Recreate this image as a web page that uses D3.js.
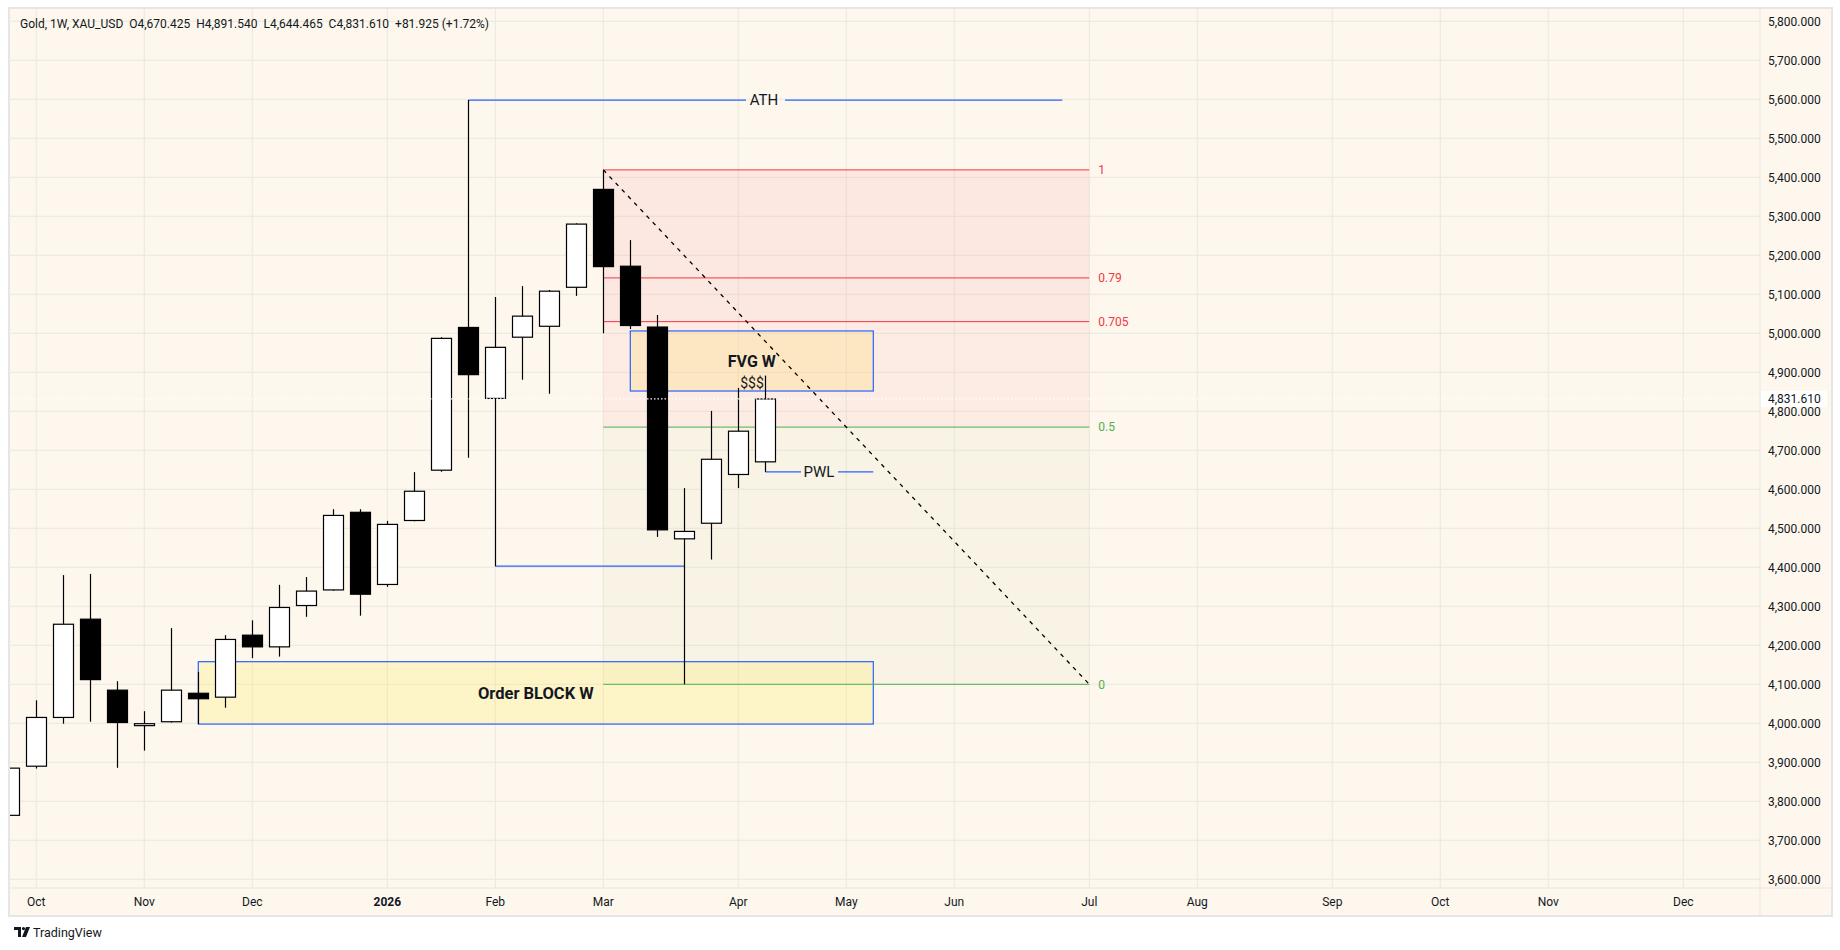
<!DOCTYPE html>
<html>
<head>
<meta charset="utf-8">
<script src="https://cdn.jsdelivr.net/npm/d3@7"></script>
<style>
  body { margin: 0; background: #ffffff; }
  svg { display: block; font-family: Roboto, "Noto Sans", sans-serif; }
</style>
</head>
<body>
<svg id="chart" width="1840" height="950"></svg>
<script>
// weekly candles, Gold XAU_USD 1W
var weeks = ["2025-09-29","2025-10-06","2025-10-13","2025-10-20","2025-10-27","2025-11-03","2025-11-10",
  "2025-11-17","2025-11-24","2025-12-01","2025-12-08","2025-12-15","2025-12-22","2025-12-29","2026-01-05",
  "2026-01-12","2026-01-19","2026-01-26","2026-02-02","2026-02-09","2026-02-16","2026-02-23","2026-03-02",
  "2026-03-09","2026-03-16","2026-03-23","2026-03-30","2026-04-06","2026-04-13"];
var open  = [3764,3890,4015,4267,4085,3994,4004,4077,4067,4226,4196,4302,4342,4541,4356,4520,4649,5015,4833,4990,5018,5118,5369,5172,5016,4473,4513,4638,4670.425];
var high  = [3886,4059,4380,4383,4108,4031,4244,4132,4226,4264,4355,4375,4549,4549,4519,4644,4990,5598,5093,5121,5111,5282,5419,5239,5047,4603,4801,4860,4891.54];
var low   = [3762,3884,3999,4004,3886,3930,4002,3998,4040,4167,4171,4273,4340,4276,4350,4518,4645,4681,4403,4881,4845,5096,5000,5011,4478,4100,4420,4603,4644.465];
var close = [3885,4015,4254,4112,4002,3999,4085,4063,4215,4196,4297,4339,4533,4331,4510,4595,4987,4894,4964,5044,5108,5280,5171,5020,4496,4492,4677,4749,4831.61];

var priceTicks = d3.range(3600, 5801, 100);
var monthNames = ["Oct","Nov","Dec","2026","Feb","Mar","Apr","May","Jun","Jul","Aug","Sep","Oct","Nov","Dec"];

var fibLevels = [1, 0.79, 0.705, 0.5, 0];
var fibHigh = 5419, fibLow = 4100;
var athLevel = 5598;
var fvg = [4852, 5006];
var orderBlock = [3998, 4158];
var swingLow = 4403;
var pwl = 4644.465;
var lastPrice = 4831.61;

var header = "Gold, 1W, XAU_USD  O4,670.425  H4,891.540  L4,644.465  C4,831.610  +81.925 (+1.72%)";

var svg = d3.select("#chart"),
    width = +svg.attr("width"),
    height = +svg.attr("height");

var parse = d3.utcParse("%Y-%m-%d");
var candles = weeks.map(function(w, i) {
  return {date: parse(w), o: open[i], h: high[i], l: low[i], c: close[i]};
});
function wk(s) { return parse(s); }

var plot = {left: 10, right: 1760, top: 9, bottom: 888};

// one week = 27px, Oct 6 2025 sits at 36.3
var x = d3.scaleUtc()
  .domain([wk("2025-10-06"), wk("2026-12-07")])
  .range([36.3, 36.3 + 27 * 61]);
var y = d3.scaleLinear()
  .domain([3600, 5800])
  .range([879.3, 21.3]);

var ink = "#131722", grid = "#ece8de", blue = "#2962ff", red = "#f23645", green = "#4caf50";

// pane backgrounds
svg.append("rect").attr("x", 9).attr("y", 8).attr("width", 1823).attr("height", 908)
  .attr("fill", "#fdf7ee").attr("stroke", "#e6e6e6").attr("stroke-width", 2);
svg.append("line").attr("x1", plot.right).attr("x2", plot.right).attr("y1", 8).attr("y2", 916)
  .attr("stroke", "#e9e6df");
svg.append("line").attr("x1", 9).attr("x2", 1832).attr("y1", plot.bottom).attr("y2", plot.bottom)
  .attr("stroke", "#e9e6df");

svg.append("clipPath").attr("id", "clip").append("rect")
  .attr("x", plot.left).attr("y", plot.top)
  .attr("width", plot.right - plot.left).attr("height", plot.bottom - plot.top);

var g = svg.append("g").attr("clip-path", "url(#clip)");

// month ticks: first weekly bar of each month
var monthTicks = d3.utcMonth.range(wk("2025-10-01"), wk("2026-12-31")).map(function(m) {
  return d3.utcMonday.ceil(m);
});

g.append("g").selectAll("line").data(monthTicks).enter().append("line")
  .attr("x1", function(d) { return x(d); }).attr("x2", function(d) { return x(d); })
  .attr("y1", plot.top).attr("y2", plot.bottom)
  .attr("stroke", grid);
g.append("g").selectAll("line").data(priceTicks).enter().append("line")
  .attr("x1", plot.left).attr("x2", plot.right)
  .attr("y1", function(d) { return y(d); }).attr("y2", function(d) { return y(d); })
  .attr("stroke", grid);

// fib retracement zones
var fibX0 = x(wk("2026-03-02")), fibX1 = x(wk("2026-06-29")) + 27;
function fibPrice(l) { return fibLow + (fibHigh - fibLow) * l; }
var zones = [[1, 0.705, "rgba(242,54,69,0.075)"], [0.705, 0.5, "rgba(242,54,69,0.055)"], [0.5, 0, "rgba(150,170,70,0.05)"]];
g.append("g").selectAll("rect").data(zones).enter().append("rect")
  .attr("x", fibX0).attr("width", fibX1 - fibX0)
  .attr("y", function(d) { return y(fibPrice(d[0])); })
  .attr("height", function(d) { return y(fibPrice(d[1])) - y(fibPrice(d[0])); })
  .attr("fill", function(d) { return d[2]; });

// order block + fvg boxes
var boxX0 = x(wk("2025-11-17")), boxX1 = x(wk("2026-05-11"));
g.append("rect").attr("x", boxX0).attr("width", boxX1 - boxX0)
  .attr("y", y(orderBlock[1])).attr("height", y(orderBlock[0]) - y(orderBlock[1]))
  .attr("fill", "rgba(255,235,80,0.24)").attr("stroke", blue).attr("stroke-width", 1.2);
var fvgX0 = x(wk("2026-03-09"));
g.append("rect").attr("x", fvgX0).attr("width", boxX1 - fvgX0)
  .attr("y", y(fvg[1])).attr("height", y(fvg[0]) - y(fvg[1]))
  .attr("fill", "rgba(255,220,120,0.3)").attr("stroke", blue).attr("stroke-width", 1.2);

// fib lines
g.append("g").selectAll("line").data(fibLevels).enter().append("line")
  .attr("x1", fibX0).attr("x2", fibX1)
  .attr("y1", function(d) { return y(fibPrice(d)); }).attr("y2", function(d) { return y(fibPrice(d)); })
  .attr("stroke", function(d) { return d >= 0.705 ? red : green; });

// ATH line
var athX0 = x(wk("2026-01-26")), athX1 = x(wk("2026-06-29"));
var athTx = 764;
g.append("line").attr("x1", athX0).attr("x2", athTx - 18).attr("y1", y(athLevel)).attr("y2", y(athLevel)).attr("stroke", blue).attr("stroke-width", 1.2);
g.append("line").attr("x1", athTx + 21).attr("x2", athX1).attr("y1", y(athLevel)).attr("y2", y(athLevel)).attr("stroke", blue).attr("stroke-width", 1.2);

// swing low line
g.append("line").attr("x1", x(wk("2026-02-02"))).attr("x2", x(wk("2026-03-23")))
  .attr("y1", y(swingLow)).attr("y2", y(swingLow)).attr("stroke", blue).attr("stroke-width", 1.2);

// PWL line
var pwlX0 = x(wk("2026-04-13")), pwlTx = 819;
g.append("line").attr("x1", pwlX0).attr("x2", pwlTx - 18).attr("y1", y(pwl)).attr("y2", y(pwl)).attr("stroke", blue).attr("stroke-width", 1.2);
g.append("line").attr("x1", pwlTx + 19).attr("x2", boxX1).attr("y1", y(pwl)).attr("y2", y(pwl)).attr("stroke", blue).attr("stroke-width", 1.2);

// candles
var bw = 20;
var cg = g.append("g").selectAll("g").data(candles).enter().append("g");
cg.append("line")
  .attr("x1", function(d) { return Math.round(x(d.date)) + 0.5; })
  .attr("x2", function(d) { return Math.round(x(d.date)) + 0.5; })
  .attr("y1", function(d) { return y(d.h); }).attr("y2", function(d) { return y(d.l); })
  .attr("stroke", "#000").attr("stroke-width", 1.2);
cg.append("rect")
  .attr("x", function(d) { return Math.round(x(d.date)) + 0.5 - bw / 2; })
  .attr("width", bw)
  .attr("y", function(d) { return y(Math.max(d.o, d.c)); })
  .attr("height", function(d) { return Math.max(1, y(Math.min(d.o, d.c)) - y(Math.max(d.o, d.c))); })
  .attr("fill", function(d) { return d.c >= d.o ? "#ffffff" : "#000000"; })
  .attr("stroke", "#000").attr("stroke-width", 1.2);

// diagonal of the fib
g.append("line")
  .attr("x1", fibX0).attr("y1", y(fibHigh))
  .attr("x2", fibX1).attr("y2", y(fibLow))
  .attr("stroke", "#000").attr("stroke-width", 1.3).attr("stroke-dasharray", "4,5");

// last price dotted line
g.append("line").attr("x1", plot.left).attr("x2", plot.right)
  .attr("y1", y(lastPrice)).attr("y2", y(lastPrice))
  .attr("stroke", "#ffffff").attr("stroke-width", 1.2).attr("stroke-dasharray", "1.5,2");

// drawing texts
g.append("text").attr("x", athTx).attr("y", y(athLevel)).attr("dy", "0.35em")
  .attr("text-anchor", "middle").attr("font-size", 15).attr("fill", ink).text("ATH");
g.append("text").attr("x", pwlTx).attr("y", y(pwl)).attr("dy", "0.35em")
  .attr("text-anchor", "middle").attr("font-size", 15).attr("fill", ink).text("PWL");
g.append("text").attr("x", (fvgX0 + boxX1) / 2).attr("y", y((fvg[0] + fvg[1]) / 2)).attr("dy", "0.35em")
  .attr("text-anchor", "middle").attr("font-size", 16).attr("font-weight", "bold").attr("fill", ink).text("FVG W");
g.append("text").attr("x", (boxX0 + boxX1) / 2).attr("y", y((orderBlock[0] + orderBlock[1]) / 2)).attr("dy", "0.35em")
  .attr("text-anchor", "middle").attr("font-size", 16.5).attr("font-weight", "bold").attr("fill", ink).text("Order BLOCK W");
g.append("text").attr("x", 752).attr("y", y(fvg[0]) - 3)
  .attr("text-anchor", "middle").attr("font-size", 14).attr("fill", ink).text("$$$");

// fib labels
g.append("g").selectAll("text").data(fibLevels).enter().append("text")
  .attr("x", fibX1 + 9).attr("y", function(d) { return y(fibPrice(d)); }).attr("dy", "0.35em")
  .attr("font-size", 12).attr("fill", function(d) { return d >= 0.705 ? red : green; })
  .text(function(d) { return String(d); });

// price axis
var fmt = d3.format(",.3f");
svg.append("g").selectAll("text").data(priceTicks).enter().append("text")
  .attr("x", 1768).attr("y", function(d) { return y(d); }).attr("dy", "0.35em")
  .attr("font-size", 12).attr("fill", ink).text(function(d) { return fmt(d); });
svg.append("rect").attr("x", 1761).attr("y", y(lastPrice) - 8).attr("width", 66).attr("height", 16).attr("fill", "#ffffff");
svg.append("text").attr("x", 1768).attr("y", y(lastPrice)).attr("dy", "0.35em")
  .attr("font-size", 12).attr("fill", ink).text(fmt(lastPrice));

// time axis
svg.append("g").selectAll("text").data(monthTicks).enter().append("text")
  .attr("x", function(d) { return x(d); }).attr("y", 902).attr("dy", "0.35em")
  .attr("text-anchor", "middle").attr("font-size", 12).attr("fill", ink)
  .attr("font-weight", function(d, i) { return monthNames[i] === "2026" ? "bold" : "normal"; })
  .text(function(d, i) { return monthNames[i]; });

// legend line
svg.append("text").attr("x", 20).attr("y", 24).attr("dy", "0.35em")
  .attr("font-size", 12).attr("fill", ink).attr("xml:space", "preserve").text(header);

// TradingView mark
var logo = svg.append("g").attr("transform", "translate(14,927)").attr("fill", ink);
logo.append("path").attr("d", "M0 0H7V10H4V3H0Z");
logo.append("circle").attr("cx", 9.5).attr("cy", 1.6).attr("r", 1.6);
logo.append("path").attr("d", "M12 0H16L12 10H8Z");
svg.append("text").attr("x", 33).attr("y", 933).attr("dy", "0.35em")
  .attr("font-size", 12.5).attr("fill", ink).text("TradingView");
</script>
</body>
</html>
